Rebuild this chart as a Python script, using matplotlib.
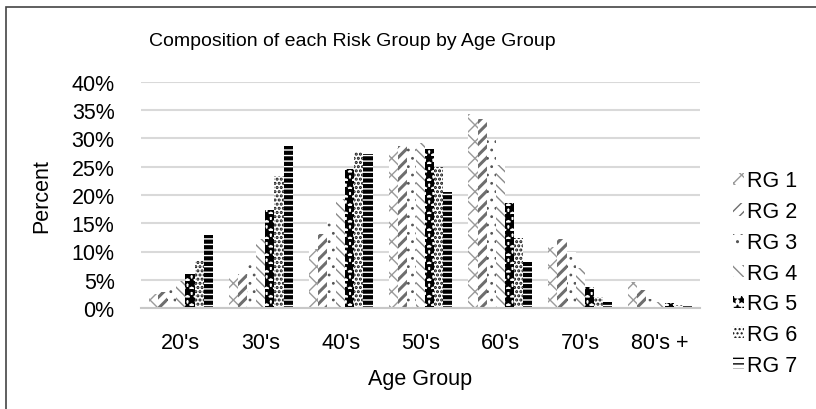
import matplotlib
matplotlib.use("Agg")
import matplotlib.pyplot as plt
from matplotlib.patches import Rectangle
import numpy as np

plt.rcParams['font.family'] = ['Liberation Sans', 'DejaVu Sans']

age_groups = ["20's", "30's", "40's", "50's", "60's", "70's", "80's +"]
risk_groups = ['RG 1', 'RG 2', 'RG 3', 'RG 4', 'RG 5', 'RG 6', 'RG 7']

# percent of each risk group falling in each age group
rg1 = [2.5, 5.5, 10.5, 28.4, 34.4, 10.8, 4.6]
rg2 = [2.8, 6.0, 13.1, 28.7, 33.4, 12.2, 3.1]
rg3 = [4.0, 8.4, 15.2, 29.0, 30.0, 10.0, 1.6]
rg4 = [4.7, 12.2, 19.3, 29.2, 25.3, 7.1, 1.1]
rg5 = [6.0, 17.4, 24.6, 28.1, 18.6, 3.8, 0.8]
rg6 = [8.5, 23.4, 27.6, 24.9, 12.4, 1.9, 0.5]
rg7 = [12.9, 28.6, 27.3, 20.5, 8.1, 1.1, 0.35]
series = [rg1, rg2, rg3, rg4, rg5, rg6, rg7]

# hatch pattern, hatch colour, hatch line width per series
styles = [('xx', '#9a9a9a', 1.0),
          ('///', '#6e6e6e', 2.2),
          ('..', '#555555', 0.8),
          ('\\\\\\', '#8a8a8a', 1.0),
          ('**', '#000000', 2.2),
          ('....', '#111111', 1.5),
          ('---', '#000000', 3.0)]

FS = 15.5

fig = plt.figure(figsize=(8.16, 4.10), dpi=100)
ax = fig.add_axes([141/816, 1 - 309/410, (700-141)/816, (309-83)/410])

x = np.arange(len(age_groups))
w = 0.114
handles = []
for i, (vals, (h, c, lw)) in enumerate(zip(series, styles)):
    bars = ax.bar(x + (i - 3) * w, np.array(vals) / 100, width=w,
                  facecolor='white', edgecolor=c, linewidth=0, hatch=h,
                  label=risk_groups[i], zorder=3)
    for b in bars:
        if hasattr(b, 'set_hatch_linewidth'):
            b.set_hatch_linewidth(lw)
    handles.append(bars)

ax.set_xlim(-0.5, len(age_groups) - 0.5)
ax.set_ylim(0, 0.40)
ax.set_yticks(np.arange(0, 0.401, 0.05))
ax.set_yticklabels(['%d%%' % round(v * 100) for v in np.arange(0, 0.401, 0.05)])
ax.set_xticks(x)
ax.set_xticklabels(age_groups)
ax.tick_params(length=0, labelsize=FS)
ax.tick_params(axis='y', pad=19)
ax.tick_params(axis='x', pad=17)
ax.grid(axis='y', color='#d9d9d9', linewidth=1.5, zorder=0)
for s in ['top', 'right', 'left']:
    ax.spines[s].set_visible(False)
ax.spines['bottom'].set_color('#c8c8c8')
ax.spines['bottom'].set_linewidth(1.5)
ax.spines['bottom'].set_zorder(4)

ax.set_xlabel('Age Group', fontsize=FS, labelpad=11)
ax.set_ylabel('Percent', fontsize=FS, labelpad=14)
fig.text(352/816, 1 - 42/410, 'Composition of each Risk Group by Age Group',
         ha='center', va='center', fontsize=14)

leg = fig.legend(handles=handles, loc='center left',
                 bbox_to_anchor=(733/816, 1 - 274/410), frameon=False,
                 borderpad=0, borderaxespad=0,
                 fontsize=FS, handlelength=0.5, handleheight=0.5,
                 handletextpad=0.15, labelspacing=0.45)

# outer chart frame
fig.add_artist(Rectangle((6/816, -0.1), 1.2, 1 - 8/410 + 0.1,
                         transform=fig.transFigure, fill=False,
                         edgecolor='#444444', linewidth=1.2, clip_on=False))

fig.savefig('out.png', dpi=100)
